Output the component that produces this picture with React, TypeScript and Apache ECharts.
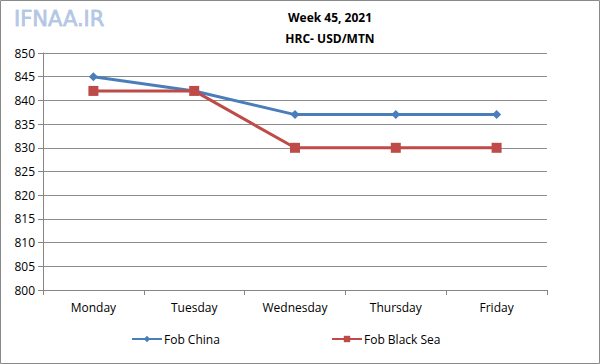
import React, { useEffect, useRef } from "react";
import * as echarts from "echarts";

const days = ["Monday", "Tuesday", "Wednesday", "Thursday", "Friday"];
const fobChina = [845, 842, 837, 837, 837];
const fobBlackSea = [842, 842, 830, 830, 830];
const titleLines = ["Week 45, 2021", "HRC- USD/MTN"];

export default function App() {
  const ref = useRef<HTMLDivElement>(null);
  useEffect(() => {
    const chart = echarts.init(ref.current!, null, { renderer: "svg" });
    const font = "'Open Sans', 'Noto Sans', sans-serif";
    chart.setOption({
      animation: false,
      backgroundColor: "#fff",
      textStyle: { fontFamily: font },
      title: {
        text: titleLines.join("\n"),
        left: 325,
        textAlign: "center",
        top: 2,
        textStyle: { fontSize: 12, fontWeight: "bold", color: "#000", lineHeight: 21, fontFamily: font },
      },
      graphic: [
        {
          type: "rect",
          shape: { x: 0.5, y: 0.5, width: 599, height: 363 },
          style: { fill: "none", stroke: "#8a8a8a", lineWidth: 1 },
          silent: true,
        },
        {
          type: "text",
          x: 14,
          y: 8,
          style: {
            text: "IFNAA.IR",
            fontSize: 21,
            fontFamily: "'DejaVu Sans', sans-serif",
            fill: "#b3c8e8",
            stroke: "#8fa3c4",
            lineWidth: 0.5,
          },
          silent: true,
        },
      ],
      grid: { left: 43, right: 53, top: 53, bottom: 74 },
      legend: [
        {
          data: ["Fob China"],
          left: 126,
          top: 328,
          itemWidth: 30,
          itemHeight: 8,
          itemGap: 2,
          textStyle: { fontSize: 12, color: "#000", fontFamily: font, padding: [0, 0, 0, -3] },
        },
        {
          data: ["Fob Black Sea"],
          left: 326,
          top: 328,
          itemWidth: 30,
          itemHeight: 8,
          textStyle: { fontSize: 12, color: "#000", fontFamily: font, padding: [0, 0, 0, -3] },
        },
      ],
      xAxis: {
        type: "category",
        data: days,
        boundaryGap: true,
        axisLine: { lineStyle: { color: "#868686" } },
        axisTick: { show: true, length: 5, lineStyle: { color: "#868686" } },
        axisLabel: { fontSize: 12, color: "#000", margin: 11 },
      },
      yAxis: {
        type: "value",
        min: 800,
        max: 850,
        interval: 5,
        axisLine: { show: true, lineStyle: { color: "#868686" } },
        axisTick: { show: true, length: 5, lineStyle: { color: "#868686" } },
        axisLabel: { fontSize: 12, color: "#000", margin: 8 },
        splitLine: { lineStyle: { color: "#8c8c8c" } },
      },
      series: [
        {
          name: "Fob China",
          type: "line",
          data: fobChina,
          symbol: "diamond",
          symbolSize: 9,
          itemStyle: { color: "#4a7ebb" },
          lineStyle: { color: "#4a7ebb", width: 3 },
        },
        {
          name: "Fob Black Sea",
          type: "line",
          data: fobBlackSea,
          symbol: "rect",
          symbolSize: 10,
          itemStyle: { color: "#be4b48" },
          lineStyle: { color: "#be4b48", width: 3 },
        },
      ],
    });
    return () => chart.dispose();
  }, []);
  return (
    <div
      ref={ref}
      style={{ position: "fixed", left: 0, top: 0, width: 600, height: 364 }}
    />
  );
}
